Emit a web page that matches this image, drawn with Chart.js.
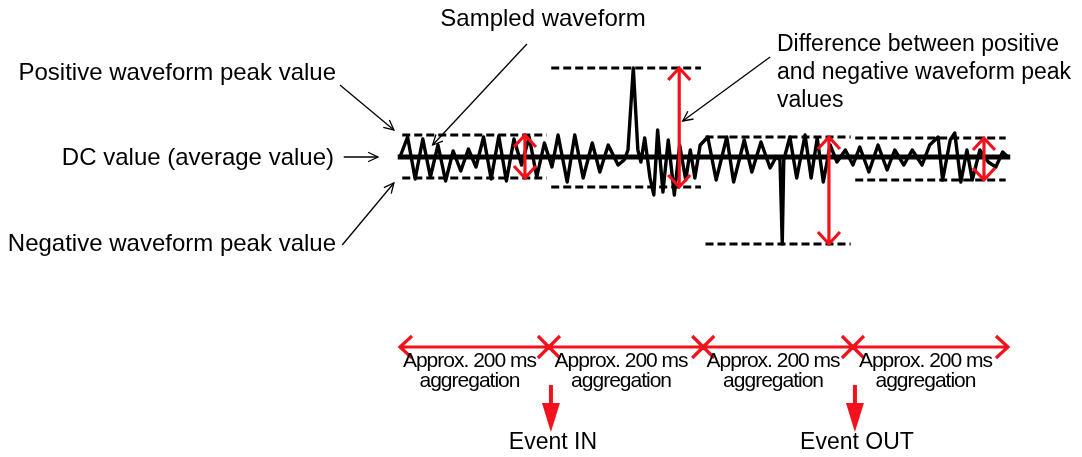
<!DOCTYPE html>
<html lang="en">
<head>
<meta charset="UTF-8">
<title>Waveform peak aggregation</title>
<script src="https://cdn.jsdelivr.net/npm/chart.js"></script>
<style>
  html, body { margin: 0; padding: 0; background: #fff; }
  #wave { display: block; }
</style>
</head>
<body>
<canvas id="wave" width="1082" height="457"></canvas>
<script>
// sampled waveform, time in ms, level relative to the DC value
const waveT = [0, 10, 20, 30, 40, 50, 60, 70, 80, 90, 100, 110, 120, 130, 140, 150, 160, 170, 180, 190, 200,
  208, 220, 230, 241, 253, 263, 274, 287, 295, 300, 307, 313, 317, 322, 329, 334, 339, 346, 353, 361, 368, 376, 382, 388, 395,
  405, 416, 430, 439, 453, 463, 475, 487, 495, 500, 503, 505, 513, 522, 533, 541, 549, 557, 566, 575, 586, 596,
  605, 617, 629, 641, 651, 663, 674, 687, 697, 708, 714, 724, 730, 738, 746, 753, 763, 774, 784, 793, 800];
const waveV = [0, 20, -22, 18, -20, 12, -24, 6, -14, 8, -10, 20, -22, 21, -24, 18, -8, 20, -20, 14, -10,
  22, -25, 22, -21, 14, -15, 12, -8, -3, 7, 89, 7, -5, 19, -21, -38, 27, -35, 17, -38, 12, -23, 7, -21, 12,
  20, -23, 20, -25, 17, -15, 15, -11, 0, -3, -87, -3, 20, -21, 22, -21, 19, -25, 12, -5, 7, -8,
  10, -15, 12, -13, 7, -8, 7, -8, 12, 20, -23, 17, 24, -25, 7, -23, 7, -5, -10, 5, 0];
const dcLevel = 0;

// aggregation windows (ms) and the peak values found in each
const windowEdges = [0, 196, 399, 596, 800];
const posPeaks = [22, 89, 20, 19];
const negPeaks = [-21, -30, -87, -23];
const windowText = ['Approx. 200 ms', 'aggregation'];

// events sit on window boundaries
const eventEdge = [1, 3];
const eventNames = ['Event IN', 'Event OUT'];

const RED = '#f3121b';
const FONT = '"Liberation Sans", Arial, sans-serif';

// dashed peak lines, one pair per window
const peakSets = [];
for (let i = 0; i < posPeaks.length; i++) {
  const a = windowEdges[i] + 3, b = windowEdges[i + 1] - 3;
  [posPeaks[i], negPeaks[i]].forEach(v => {
    peakSets.push({
      data: [{x: a, y: v}, {x: b, y: v}],
      borderColor: '#000', borderWidth: 3, borderDash: [8, 4],
      pointRadius: 0
    });
  });
}

function openHead(ctx, x0, y0, x1, y1, len, ang) {
  const a = Math.atan2(y1 - y0, x1 - x0);
  ctx.beginPath();
  ctx.moveTo(x1 - len * Math.cos(a - ang), y1 - len * Math.sin(a - ang));
  ctx.lineTo(x1, y1);
  ctx.lineTo(x1 - len * Math.cos(a + ang), y1 - len * Math.sin(a + ang));
  ctx.stroke();
}

// pointer arrows of the labels, in data units (tail -> tip)
const pointers = [
  [-79, 72, -8, 27],
  [-74, 0, -29, 0],
  [-76, -88, -8, -26],
  [167, 113, 43, 12],
  [487, 100, 372, 36]
];

const annot = {
  id: 'annot',
  afterDatasetsDraw(chart) {
    const {ctx, scales: {x, y}} = chart;
    ctx.save();
    ctx.lineCap = 'butt';

    // red double arrows spanning each window's peaks
    ctx.strokeStyle = RED;
    ctx.lineWidth = 3.2;
    for (let i = 0; i < posPeaks.length; i++) {
      const ax = x.getPixelForValue(windowEdges[i + 1]) - 24;
      const top = y.getPixelForValue(posPeaks[i]);
      const bot = y.getPixelForValue(negPeaks[i]);
      ctx.beginPath();
      ctx.moveTo(ax, top); ctx.lineTo(ax, bot);
      ctx.moveTo(ax - 11, top + 12); ctx.lineTo(ax, top); ctx.lineTo(ax + 11, top + 12);
      ctx.moveTo(ax - 11, bot - 12); ctx.lineTo(ax, bot); ctx.lineTo(ax + 11, bot - 12);
      ctx.stroke();
    }

    // time line with window boundaries
    const ty = 347;
    const x0 = x.getPixelForValue(windowEdges[0]);
    const xn = x.getPixelForValue(windowEdges[windowEdges.length - 1]);
    ctx.beginPath();
    ctx.moveTo(x0, ty); ctx.lineTo(xn, ty);
    ctx.moveTo(x0 + 12, ty - 11); ctx.lineTo(x0, ty); ctx.lineTo(x0 + 12, ty + 11);
    ctx.moveTo(xn - 12, ty - 11); ctx.lineTo(xn, ty); ctx.lineTo(xn - 12, ty + 11);
    for (let i = 1; i < windowEdges.length - 1; i++) {
      const cx = x.getPixelForValue(windowEdges[i]);
      ctx.moveTo(cx - 11, ty - 11); ctx.lineTo(cx + 11, ty + 11);
      ctx.moveTo(cx + 11, ty - 11); ctx.lineTo(cx - 11, ty + 11);
    }
    ctx.stroke();

    // event arrows
    ctx.fillStyle = RED;
    eventEdge.forEach((e, k) => {
      const ex = x.getPixelForValue(windowEdges[e]) + 2;
      ctx.fillRect(ex - 2, 385, 4, 19);
      ctx.beginPath();
      ctx.moveTo(ex - 9, 403); ctx.lineTo(ex + 9, 403); ctx.lineTo(ex, 432);
      ctx.closePath();
      ctx.fill();
    });

    // black pointer arrows
    ctx.strokeStyle = '#000';
    ctx.lineWidth = 1.3;
    pointers.forEach(p => {
      const a = x.getPixelForValue(p[0]), b = y.getPixelForValue(p[1]);
      const c = x.getPixelForValue(p[2]), d = y.getPixelForValue(p[3]);
      ctx.beginPath(); ctx.moveTo(a, b); ctx.lineTo(c, d); ctx.stroke();
      openHead(ctx, a, b, c, d, 11, 0.45);
    });

    // texts
    ctx.fillStyle = '#000';
    ctx.textBaseline = 'middle';
    ctx.font = '24px ' + FONT;
    ctx.textAlign = 'center';
    ctx.fillText('Sampled waveform', 543, 19);
    ctx.textAlign = 'right';
    ctx.fillText('Positive waveform peak value', 336, 73);
    ctx.fillText('DC value (average value)', 334, 158);
    ctx.fillText('Negative waveform peak value', 336, 244);
    ctx.textAlign = 'left';
    ctx.font = '23px ' + FONT;
    ctx.fillText('Difference between positive', 777, 45);
    ctx.fillText('and negative waveform peak', 777, 73);
    ctx.fillText('values', 777, 101);

    ctx.textAlign = 'center';
    ctx.font = '21px ' + FONT;
    if ('letterSpacing' in ctx) ctx.letterSpacing = '-1px';
    for (let i = 0; i < windowEdges.length - 1; i++) {
      const cx = (x.getPixelForValue(windowEdges[i]) + x.getPixelForValue(windowEdges[i + 1])) / 2 - 5;
      ctx.fillText(windowText[0], cx, 361);
      ctx.fillText(windowText[1], cx, 381);
    }
    if ('letterSpacing' in ctx) ctx.letterSpacing = '0px';

    ctx.font = '23px ' + FONT;
    eventEdge.forEach((e, k) => {
      const ex = x.getPixelForValue(windowEdges[e]) + 4;
      ctx.fillText(eventNames[k], ex, 443);
    });
    ctx.restore();
  }
};

const ctx = document.getElementById('wave').getContext('2d');
new Chart(ctx, {
  type: 'line',
  data: {
    datasets: peakSets.concat([
      {
        data: [{x: waveT[0] - 3, y: dcLevel}, {x: waveT[waveT.length - 1] + 3, y: dcLevel}],
        borderColor: '#000', borderWidth: 5, pointRadius: 0
      },
      {
        data: waveT.map((t, i) => ({x: t, y: waveV[i]})),
        borderColor: '#000', borderWidth: 3.4, pointRadius: 0,
        borderJoinStyle: 'round', tension: 0
      }
    ])
  },
  options: {
    responsive: false,
    devicePixelRatio: 1,
    animation: false,
    events: [],
    layout: { padding: 0 },
    scales: {
      x: { type: 'linear', min: -526.3, max: 897.4, display: false },
      y: { type: 'linear', min: -300, max: 157, display: false }
    },
    plugins: {
      legend: { display: false },
      tooltip: { enabled: false }
    }
  },
  plugins: [annot]
});
</script>
</body>
</html>
